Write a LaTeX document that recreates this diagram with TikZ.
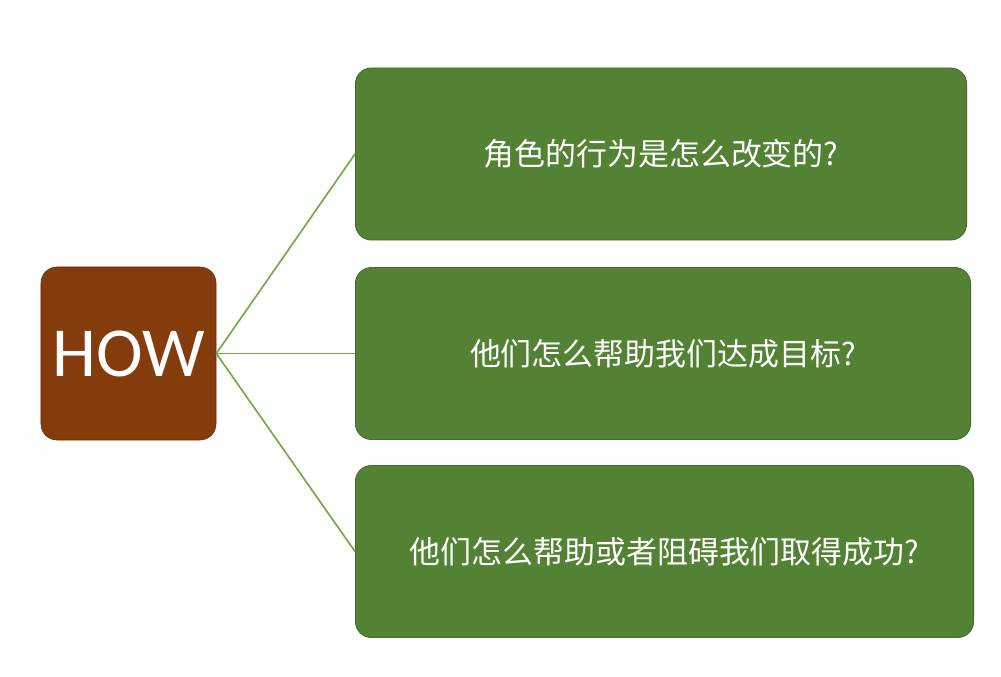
\documentclass[tikz,border=0pt]{standalone}
\usepackage{fontspec}
\newfontfamily\howfont{Carlito}
\newfontfamily\cjk{Noto Sans CJK SC}
\definecolor{howbrown}{HTML}{843C0C}
\definecolor{qgreen}{HTML}{548235}
\definecolor{qedge}{HTML}{44692B}
\definecolor{linkgreen}{HTML}{70AD47}
\begin{document}
\begin{tikzpicture}[x=0.025cm, y=-0.025cm,
	howbox/.style={fill=howbrown, draw=howbrown!80!black, line width=0.4pt, rounded corners=0.4cm,
		minimum width=4.375cm, minimum height=4.325cm, text=white, font=\howfont\fontsize{50}{60}\selectfont},
	qbox/.style={fill=qgreen, draw=qedge, line width=0.6pt, rounded corners=0.4cm,
		minimum height=4.3cm, text=white, font=\cjk\fontsize{22}{26}\selectfont},
	link/.style={linkgreen, line width=1.2pt}]
\useasboundingbox (0,0) rectangle (1001,677);
\node[howbox] (how) at (128.5,353.5) {HOW};
\foreach \n / \y / \w / \txt in {1/154/15.275/{角色的行为是怎么改变的?},
		2/353.5/15.375/{他们怎么帮助我们达成目标?},
		3/551.5/15.45/{他们怎么帮助或者阻碍我们取得成功?}} {
	\node[qbox, minimum width=\w cm, anchor=west] (q\n) at (355,\y) {\txt};
	\draw[link] (how.east) -- (q\n.west);
}
\end{tikzpicture}
\end{document}
